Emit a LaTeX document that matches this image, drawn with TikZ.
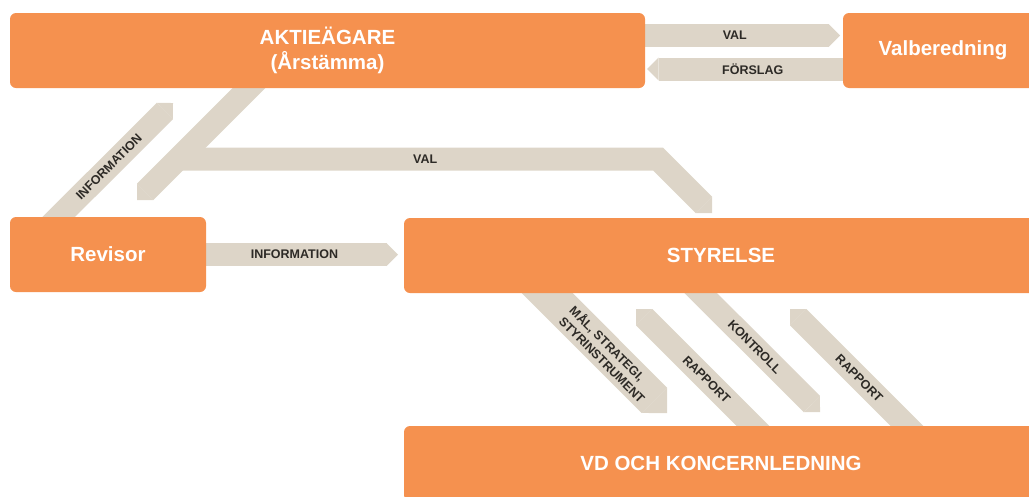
\documentclass[tikz,border=0pt]{standalone}
\usepackage{fontspec}
\setmainfont{Liberation Sans}
\usetikzlibrary{arrows.meta,calc,backgrounds}
\definecolor{boxorange}{HTML}{F5914F}
\definecolor{bandgrey}{HTML}{DDD5C8}
\definecolor{ink}{HTML}{2D2A26}

\begin{document}
\begin{tikzpicture}[
        x=1pt, y=-1pt,
        every node/.style={inner sep=0pt},
        box/.style={fill=boxorange, rounded corners=6pt, minimum height=75pt, text=white, align=center, font=\bfseries\fontsize{20.5}{25}\selectfont},
        band/.style={draw=bandgrey, line width=23pt, -{Triangle[width=23pt,length=11.5pt,line width=0pt]}},
        wideband/.style={draw=bandgrey, line width=36pt, -{Triangle[width=36pt,length=18pt,line width=0pt]}},
        lab/.style={text=ink, font=\bfseries\fontsize{12.5}{15}\selectfont}
    ]
    \useasboundingbox (0,0) rectangle (1029,496);
    \clip (0,0) rectangle (1029,496);

    \node[box, minimum width=635pt] (aktie) at (327.5,50.5) {AKTIEÄGARE\\(Årstämma)};
    \node[box, minimum width=200pt] (valb) at (943,50.5) {Valberedning};
    \node[box, minimum width=196pt] (revisor) at (108,254.5) {Revisor};
    \node[box, minimum width=634pt] (styrelse) at (721,255.5) {STYRELSE};
    \node[box, minimum width=634pt] (vd) at (721,463.5) {VD OCH KONCERNLEDNING};

    \coordinate (valtip) at (840,35.5);
    \coordinate (forslagtip) at (647,69);
    \coordinate (infotip) at (398,254.5);
    \coordinate (infoup) at (173,103);
    \coordinate (valrev) at (137,200);
    \coordinate (valbend) at (658,159);
    \coordinate (valsty) at (712,213);
    \coordinate (maltip) at (667,413);
    \coordinate (kontip) at (820,412);
    \coordinate (raptip1) at (636,309);
    \coordinate (raptip2) at (790,309);

    \begin{pgfonlayer}{background}
        \draw[band] (aktie.east |- valtip) -- node[lab, pos=0.46] (lval) {VAL} (valtip);
        \draw[band] (valb.west |- forslagtip) -- node[lab, pos=0.46] (lforslag) {FÖRSLAG} (forslagtip);
        \draw[band] (revisor.east |- infotip) -- node[lab, pos=0.46] (linfo) {INFORMATION} (infotip);
        \draw[band] ($(revisor.north west)+(35,14)$) -- node[lab, sloped, pos=0.5] (linfoup) {INFORMATION} (infoup);
        \draw[band] ($(aktie.south west)+(252,-13)$) -- coordinate[pos=0.672] (valfork) (valrev);
        \draw[band] (valfork |- valbend) -- node[lab, pos=0.515] (lvalsty) {VAL} (valbend) -- (valsty);
        \draw[wideband] ($(styrelse.south west)+(127.5,-16)$) -- node[lab, sloped, pos=0.565, align=left] (lmal) {MÅL, STRATEGI,\\STYRINSTRUMENT} (maltip);
        \draw[band] ($(styrelse.south west)+(283,-14)$) -- node[lab, sloped, pos=0.51] (lkontroll) {KONTROLL} (kontip);
        \draw[band] ($(vd.north west)+(363,14)$) -- node[lab, sloped, pos=0.46] (lrap1) {RAPPORT} (raptip1);
        \draw[band] ($(vd.north west)+(517,14)$) -- node[lab, sloped, pos=0.47] (lrap2) {RAPPORT} (raptip2);
    \end{pgfonlayer}
\end{tikzpicture}
\end{document}
